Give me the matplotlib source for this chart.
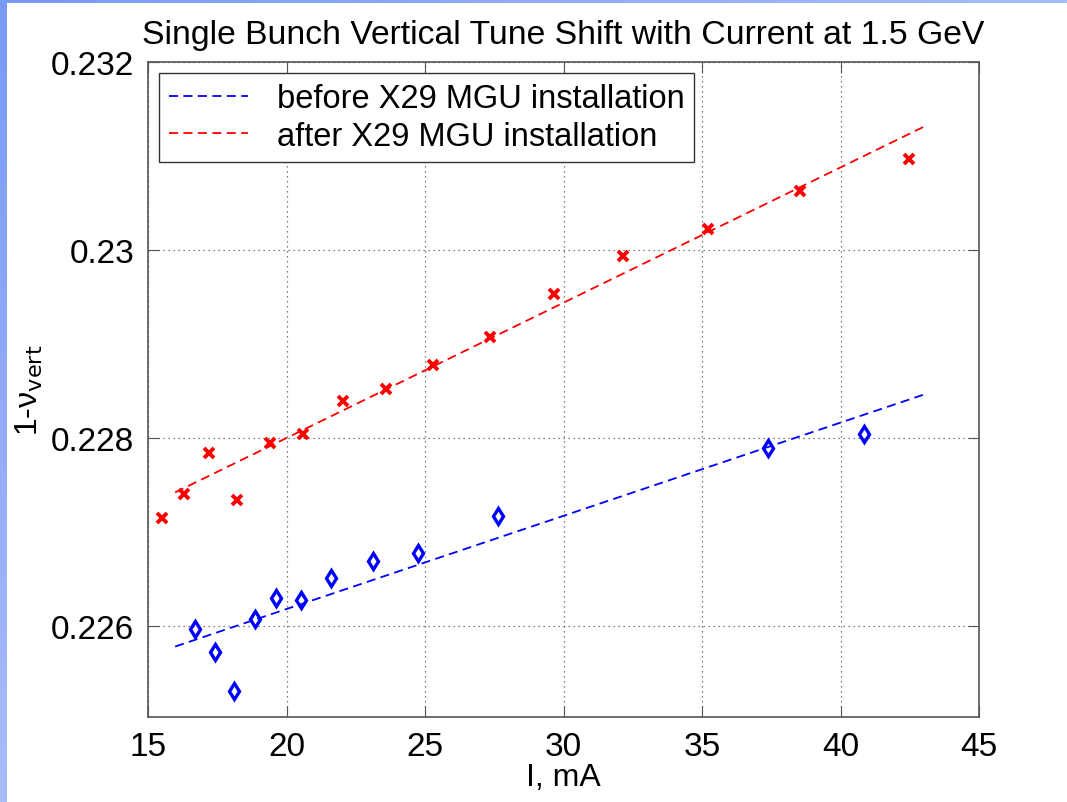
import numpy as np
import matplotlib
matplotlib.use("Agg")
import matplotlib.pyplot as plt

plt.rcParams['font.family'] = ['Liberation Sans', 'DejaVu Sans']

# measured points, after X29 MGU installation
after_I = [15.51, 16.30, 17.20, 18.22, 19.41, 20.60, 22.05, 23.60, 25.30,
           27.36, 29.64, 32.13, 35.20, 38.53, 42.47]
after_tune = [0.22715, 0.22740, 0.22784, 0.22734, 0.22795, 0.22804, 0.22839,
              0.22852, 0.22878, 0.22907, 0.22953, 0.22994, 0.23022, 0.23063,
              0.23097]

# measured points, before X29 MGU installation
before_I = [16.70, 17.42, 18.11, 18.87, 19.63, 20.53, 21.61, 23.13, 24.76,
            27.65, 37.37, 40.84]
before_tune = [0.22597, 0.22572, 0.22531, 0.22607, 0.22630, 0.22628, 0.22651,
               0.22669, 0.22677, 0.22717, 0.22789, 0.22804]

# linear fits (end points)
fit_I = [15.98, 43.0]
before_fit = [0.22578, 0.22846]
after_fit = [0.22742, 0.23131]

xticks = [15, 20, 25, 30, 35, 40, 45]
yticks = [0.226, 0.228, 0.230, 0.232]
ytick_labels = ['0.226', '0.228', '0.23', '0.232']

fig = plt.figure(figsize=(10.67, 8.03), dpi=100)

# blue slide border on the left and top
grad = np.linspace(0, 1, 256).reshape(-1, 1)
cmap = matplotlib.colors.LinearSegmentedColormap.from_list('b', ['#7a9af7', '#a9bcfa'])
bl = fig.add_axes([0, 0, 7 / 1067, 1])
bl.imshow(grad, aspect='auto', cmap=cmap)
bl.axis('off')
bt = fig.add_axes([0, 1 - 4 / 803, 1, 4 / 803])
bt.imshow(grad.T, aspect='auto', cmap=cmap)
bt.axis('off')

ax = fig.add_axes([148 / 1067, 1 - 718 / 803, (979 - 148) / 1067, (718 - 63) / 803])

ax.plot(fit_I, before_fit, '--', color='#0000ff', lw=1.3, dashes=(5, 3),
        label='before X29 MGU installation')
ax.plot(fit_I, after_fit, '--', color='#ff0000', lw=1.3, dashes=(5, 3),
        label='after X29 MGU installation')
ax.plot(before_I, before_tune, 'd', color='#0000ff', mfc='none', ms=8, mew=2.4)
ax.plot(after_I, after_tune, 'x', color='#ff0000', ms=7, mew=2.8)

ax.set_xlim(15, 45)
ax.set_ylim(0.22503, 0.232)
ax.set_xticks(xticks)
ax.set_yticks(yticks)
ax.set_yticklabels(ytick_labels)
ax.tick_params(direction='in', length=8, labelsize=24, top=True, right=True,
               color='#555555', pad=10)
for s in ax.spines.values():
    s.set_color('#555555')
    s.set_linewidth(1.2)
ax.grid(True, linestyle=(0, (1, 3)), color='#555555', lw=0.9)

ax.set_xlabel('I, mA', fontsize=23, labelpad=0)
ax.set_ylabel(r'1-ν$_{\mathrm{vert}}$', fontsize=23, labelpad=4)
ax.set_title('Single Bunch Vertical Tune Shift with Current at 1.5 GeV',
             fontsize=24.3, pad=14)

leg = ax.legend(loc='upper left', fontsize=23.5, fancybox=False, framealpha=1,
                edgecolor='#333333', handlelength=2.4, handletextpad=0.9,
                borderpad=0.3, labelspacing=0.2, borderaxespad=0.35)
leg.get_frame().set_linewidth(1.0)

fig.savefig('out.png', dpi=100)
